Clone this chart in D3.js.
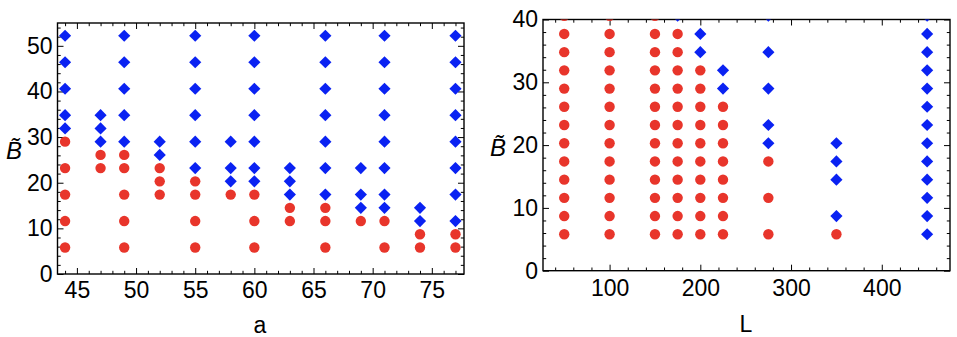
<!DOCTYPE html>
<html><head><meta charset="utf-8">
<script src="https://cdn.jsdelivr.net/npm/d3@7"></script>
<style>
html,body{margin:0;padding:0;background:#fff;}
svg{display:block;}
text{font-family:"Liberation Sans",Arial,sans-serif;fill:#000;}
</style></head>
<body>
<svg id="chart" width="957" height="337"></svg>
<script>
// ---------------- DATA ----------------
// Left panel: x = a, y = B~
const leftStableA = [44,44,44,44,44, 47,47, 49,49,49,49,49, 52,52,52, 55,55,55,55, 58, 60,60,60, 63,63, 66,66,66, 69, 71,71, 74,74, 77,77];
const leftStableB = [29.0,23.2,17.4,11.6,5.8, 26.1,23.2, 26.1,23.2,17.4,11.6,5.8, 23.2,20.3,17.4, 20.3,17.4,11.6,5.8, 17.4, 17.4,11.6,5.8, 14.5,11.6, 14.5,11.6,5.8, 11.6, 11.6,5.8, 8.7,5.8, 8.7,5.8];
const leftUnstableA = [44,44,44,44,44, 47,47,47, 49,49,49,49,49, 52,52, 55,55,55,55,55,55, 58,58,58, 60,60,60,60,60,60,60, 63,63,63, 66,66,66,66,66,66,66, 69,69,69, 71,71,71,71,71,71,71,71, 74,74, 77,77,77,77,77,77,77,77];
const leftUnstableB = [52.2,46.4,40.6,34.8,31.9, 34.8,31.9,29.0, 52.2,46.4,40.6,34.8,29.0, 29.0,26.1, 52.2,46.4,40.6,34.8,29.0,23.2, 29.0,23.2,20.3, 52.2,46.4,40.6,34.8,29.0,23.2,20.3, 23.2,20.3,17.4, 52.2,46.4,40.6,34.8,29.0,23.2,17.4, 23.2,17.4,14.5, 52.2,46.4,40.6,34.8,29.0,23.2,17.4,14.5, 14.5,11.6, 52.2,46.4,40.6,34.8,29.0,23.2,17.4,11.6];

// Right panel: x = L, y = B~
const rightStableL = [50,50,50,50,50,50,50,50,50,50,50,50,50,
  100,100,100,100,100,100,100,100,100,100,100,100,100,
  150,150,150,150,150,150,150,150,150,150,150,150,150,
  175,175,175,175,175,175,175,175,175,175,175,175,
  200,200,200,200,200,200,200,200,200,200,
  225,225,225,225,225,225,225,225,
  275,275,275, 350];
const rightStableB = [5.8,8.7,11.6,14.5,17.4,20.3,23.2,26.1,29.0,31.9,34.8,37.7,40.6,
  5.8,8.7,11.6,14.5,17.4,20.3,23.2,26.1,29.0,31.9,34.8,37.7,40.6,
  5.8,8.7,11.6,14.5,17.4,20.3,23.2,26.1,29.0,31.9,34.8,37.7,40.6,
  5.8,8.7,11.6,14.5,17.4,20.3,23.2,26.1,29.0,31.9,34.8,37.7,
  5.8,8.7,11.6,14.5,17.4,20.3,23.2,26.1,29.0,31.9,
  5.8,8.7,11.6,14.5,17.4,20.3,23.2,26.1,
  5.8,11.6,17.4, 5.8];
const rightUnstableL = [175, 200,200, 225,225, 275,275,275,275,275, 350,350,350,350,
  450,450,450,450,450,450,450,450,450,450,450,450,450];
const rightUnstableB = [40.6, 34.8,37.7, 29.0,31.9, 20.3,23.2,29.0,34.8,40.6, 8.7,14.5,17.4,20.3,
  5.8,8.7,11.6,14.5,17.4,20.3,23.2,26.1,29.0,31.9,34.8,37.7,40.6];

// Tick values
const leftXMajor = [45,50,55,60,65,70,75];
const leftYMajor = [0,10,20,30,40,50];
const rightXMajor = [100,200,300,400];
const rightYMajor = [0,10,20,30,40];

// ---------------- DRAW ----------------
const svg = d3.select("#chart");
const RED = "#e8352b", BLUE = "#0a22f2";

function panel(cfg){
  const g = svg.append("g");
  const x = d3.scaleLinear().domain(cfg.xDom).range([cfg.x0, cfg.x1]);
  const y = d3.scaleLinear().domain(cfg.yDom).range([cfg.y1, cfg.y0]);
  const id = "clip" + cfg.name;
  svg.append("clipPath").attr("id", id).append("rect")
    .attr("x", cfg.x0).attr("y", cfg.y0).attr("width", cfg.x1 - cfg.x0).attr("height", cfg.y1 - cfg.y0);

  const font = "23px";
  const minorX = d3.range(Math.ceil(cfg.xDom[0]/cfg.xMinor)*cfg.xMinor, cfg.xDom[1], cfg.xMinor)
      .filter(v => !cfg.xMajor.some(m => Math.abs(m - v) < 1e-9));
  const minorY = d3.range(Math.ceil(cfg.yDom[0]/cfg.yMinor)*cfg.yMinor, cfg.yDom[1] + 1e-9, cfg.yMinor)
      .filter(v => !cfg.yMajor.some(m => Math.abs(m - v) < 1e-9));
  const maj = 6, mnr = 3.2;

  const axes = [
    [d3.axisBottom(x).tickValues(cfg.xMajor).tickSize(-maj).tickPadding(cfg.xPad), `translate(0,${cfg.y1})`, true],
    [d3.axisBottom(x).tickValues(minorX).tickSize(-mnr).tickFormat(""), `translate(0,${cfg.y1})`, false],
    [d3.axisTop(x).tickValues(cfg.xMajor).tickSize(-maj).tickFormat(""), `translate(0,${cfg.y0})`, false],
    [d3.axisTop(x).tickValues(minorX).tickSize(-mnr).tickFormat(""), `translate(0,${cfg.y0})`, false],
    [d3.axisLeft(y).tickValues(cfg.yMajor).tickSize(-maj).tickPadding(cfg.yPad), `translate(${cfg.x0},0)`, true],
    [d3.axisLeft(y).tickValues(minorY).tickSize(-mnr).tickFormat(""), `translate(${cfg.x0},0)`, false],
    [d3.axisRight(y).tickValues(cfg.yMajor).tickSize(-maj).tickFormat(""), `translate(${cfg.x1},0)`, false],
    [d3.axisRight(y).tickValues(minorY).tickSize(-mnr).tickFormat(""), `translate(${cfg.x1},0)`, false]
  ];
  axes.forEach(([ax, tr, lab]) => {
    const a = g.append("g").attr("transform", tr).call(ax);
    a.select(".domain").remove();
    a.selectAll(".tick line").attr("stroke", "#000").attr("stroke-width", 1);
    if (lab) a.selectAll(".tick text").style("font-size", font).attr("fill", "#000")
      .style("font-family", '"Liberation Sans",Arial,sans-serif');
  });

  g.append("rect").attr("x", cfg.x0).attr("y", cfg.y0)
    .attr("width", cfg.x1 - cfg.x0).attr("height", cfg.y1 - cfg.y0)
    .attr("fill", "none").attr("stroke", "#000").attr("stroke-width", 1.4);

  const pts = g.append("g").attr("clip-path", `url(#${id})`);
  pts.selectAll("circle").data(d3.range(cfg.sx.length)).join("circle")
    .attr("cx", i => x(cfg.sx[i])).attr("cy", i => y(cfg.sy[i]))
    .attr("r", 5.2).attr("fill", RED);
  const diamond = d3.symbol(d3.symbolSquare, 74);
  pts.selectAll("path.d").data(d3.range(cfg.ux.length)).join("path").attr("class", "d")
    .attr("d", diamond)
    .attr("transform", i => `translate(${x(cfg.ux[i])},${y(cfg.uy[i])}) rotate(45)`)
    .attr("fill", BLUE);

  g.append("text").attr("x", cfg.xlabX).attr("y", cfg.xlabY).attr("text-anchor", "middle")
    .style("font-size", "23px").text(cfg.xlab);
  g.append("text").attr("x", cfg.ylabX).attr("y", cfg.ylabY).attr("text-anchor", "middle")
    .style("font-size", "24px").style("font-style", "italic").text("B\u0303");
}

panel({name: "L", xDom: [43.36, 77.72], yDom: [0, 55], x0: 57.5, x1: 464, y0: 23, y1: 274,
  xMajor: leftXMajor, yMajor: leftYMajor, xMinor: 1, yMinor: 2, xPad: 8, yPad: 5,
  sx: leftStableA, sy: leftStableB, ux: leftUnstableA, uy: leftUnstableB,
  xlab: "a", xlabX: 260, xlabY: 333, ylabX: 14, ylabY: 159});

panel({name: "R", xDom: [26.6, 475.2], yDom: [0, 40], x0: 543, x1: 950, y0: 19.5, y1: 270.7,
  xMajor: rightXMajor, yMajor: rightYMajor, xMinor: 20, yMinor: 2, xPad: 9, yPad: 5,
  sx: rightStableL, sy: rightStableB, ux: rightUnstableL, uy: rightUnstableB,
  xlab: "L", xlabX: 746, xlabY: 332, ylabX: 498, ylabY: 156});
</script>
</body></html>
